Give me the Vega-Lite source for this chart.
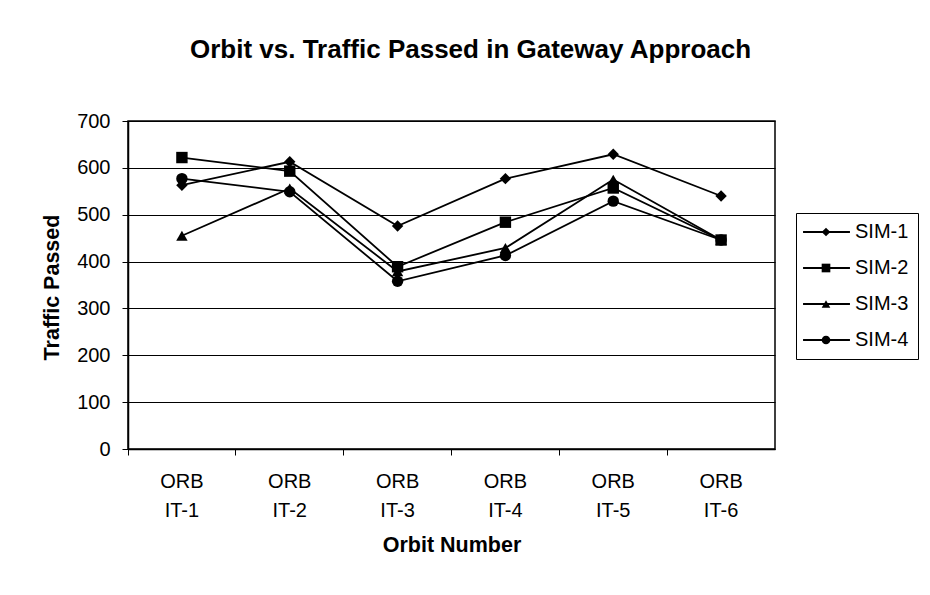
{
  "$schema": "https://vega.github.io/schema/vega-lite/v6.json",
  "autosize": {"type": "none"},
  "padding": {"left": 128, "top": 121, "right": 155, "bottom": 146},
  "width": 647,
  "height": 328,
  "background": "white",
  "title": {
    "text": "Orbit vs. Traffic Passed in Gateway Approach",
    "font": "Liberation Sans",
    "fontSize": 26,
    "fontWeight": "bold",
    "color": "black",
    "anchor": "middle",
    "baseline": "alphabetic",
    "dx": 19,
    "offset": 27
  },
  "data": {
    "values": [
      {"orbit": "ORB IT-1", "series": "SIM-1", "traffic": 563},
      {"orbit": "ORB IT-2", "series": "SIM-1", "traffic": 613},
      {"orbit": "ORB IT-3", "series": "SIM-1", "traffic": 476},
      {"orbit": "ORB IT-4", "series": "SIM-1", "traffic": 577},
      {"orbit": "ORB IT-5", "series": "SIM-1", "traffic": 629},
      {"orbit": "ORB IT-6", "series": "SIM-1", "traffic": 540},
      {"orbit": "ORB IT-1", "series": "SIM-2", "traffic": 622},
      {"orbit": "ORB IT-2", "series": "SIM-2", "traffic": 593},
      {"orbit": "ORB IT-3", "series": "SIM-2", "traffic": 389},
      {"orbit": "ORB IT-4", "series": "SIM-2", "traffic": 484},
      {"orbit": "ORB IT-5", "series": "SIM-2", "traffic": 557},
      {"orbit": "ORB IT-6", "series": "SIM-2", "traffic": 446},
      {"orbit": "ORB IT-1", "series": "SIM-3", "traffic": 455},
      {"orbit": "ORB IT-2", "series": "SIM-3", "traffic": 556},
      {"orbit": "ORB IT-3", "series": "SIM-3", "traffic": 379},
      {"orbit": "ORB IT-4", "series": "SIM-3", "traffic": 429},
      {"orbit": "ORB IT-5", "series": "SIM-3", "traffic": 575},
      {"orbit": "ORB IT-6", "series": "SIM-3", "traffic": 446},
      {"orbit": "ORB IT-1", "series": "SIM-4", "traffic": 577},
      {"orbit": "ORB IT-2", "series": "SIM-4", "traffic": 549},
      {"orbit": "ORB IT-3", "series": "SIM-4", "traffic": 358},
      {"orbit": "ORB IT-4", "series": "SIM-4", "traffic": 413},
      {"orbit": "ORB IT-5", "series": "SIM-4", "traffic": 529},
      {"orbit": "ORB IT-6", "series": "SIM-4", "traffic": 446}
    ]
  },
  "encoding": {
    "x": {
      "field": "orbit",
      "type": "nominal",
      "scale": {"type": "band", "paddingInner": 0, "paddingOuter": 0},
      "axis": {
        "title": "Orbit Number",
        "titleFont": "Liberation Sans",
        "titleFontSize": 21.5,
        "titleFontWeight": "bold",
        "titleColor": "black",
        "titleY": 96,
        "titleBaseline": "middle",
        "labelAngle": 0,
        "labelExpr": "split(datum.label, ' ')",
        "labelFont": "Liberation Sans",
        "labelFontSize": 20,
        "labelColor": "black",
        "labelLineHeight": 29,
        "labelBaseline": "top",
        "labelPadding": 16,
        "bandPosition": 0,
        "tickSize": 6,
        "tickColor": "black",
        "domainColor": "black",
        "domainWidth": 1.5,
        "grid": false
      }
    },
    "y": {
      "field": "traffic",
      "type": "quantitative",
      "scale": {"domain": [0, 700], "nice": false},
      "axis": {
        "title": "Traffic Passed",
        "titleFont": "Liberation Sans",
        "titleFontSize": 21.5,
        "titleFontWeight": "bold",
        "titleColor": "black",
        "titleX": -76,
        "titleY": 166,
        "titleAngle": -90,
        "titleBaseline": "middle",
        "titleAlign": "center",
        "values": [0, 100, 200, 300, 400, 500, 600, 700],
        "labelFont": "Liberation Sans",
        "labelFontSize": 20,
        "labelColor": "black",
        "labelPadding": 12,
        "tickSize": 6,
        "tickColor": "black",
        "domainColor": "black",
        "domainWidth": 1.5,
        "grid": true,
        "gridColor": "black",
        "gridWidth": 1
      }
    }
  },
  "layer": [
    {
      "mark": {"type": "line", "strokeWidth": 1.8},
      "encoding": {
        "color": {
          "field": "series",
          "type": "nominal",
          "scale": {
            "domain": ["SIM-1", "SIM-2", "SIM-3", "SIM-4"],
            "range": ["black", "black", "black", "black"]
          },
          "legend": {
            "title": null,
            "orient": "none",
            "legendX": 668,
            "legendY": 92,
            "padding": 9,
            "strokeColor": "black",
            "symbolType": "M-10,0H10",
            "symbolSize": 22,
            "symbolOffset": 11.5,
            "symbolStrokeWidth": 1.8,
            "symbolStrokeColor": "black",
            "labelFont": "Liberation Sans",
            "labelFontSize": 20,
            "labelColor": "black",
            "labelOffset": 18.5,
            "rowPadding": 16
          }
        }
      }
    },
    {
      "mark": {"type": "point", "filled": true, "color": "black", "opacity": 1, "size": 130},
      "encoding": {
        "shape": {
          "field": "series",
          "type": "nominal",
          "scale": {"range": ["diamond", "square", "triangle-up", "circle"]},
          "legend": {
            "title": null,
            "orient": "none",
            "legendX": 679,
            "legendY": 92,
            "padding": 9,
            "symbolSize": 75,
            "symbolFillColor": "black",
            "symbolStrokeColor": "black",
            "symbolStrokeWidth": 0,
            "symbolOpacity": 1,
            "labelFont": "Liberation Sans",
            "labelFontSize": 20,
            "labelColor": "transparent",
            "labelOffset": 5,
            "rowPadding": 16
          }
        }
      }
    }
  ],
  "config": {
    "view": {"stroke": "black", "strokeWidth": 1.5},
    "font": "Liberation Sans"
  }
}
